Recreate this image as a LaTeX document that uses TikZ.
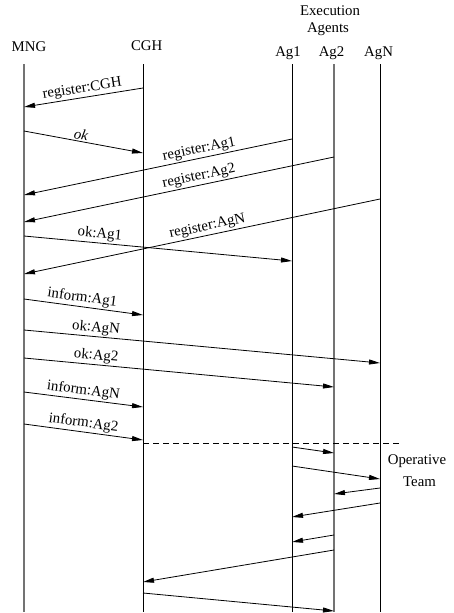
\documentclass[tikz,border=0pt]{standalone}
\usepackage{fontspec}
\setmainfont{Liberation Serif}
\usetikzlibrary{arrows.meta}
\begin{document}
\begin{tikzpicture}[x=1pt,y=-1pt,
  every node/.style={font=\fontsize{14.8}{17}\selectfont},
  head/.style={anchor=base,inner sep=0pt},
  life/.style={line width=0.9pt,black},
  lifeg/.style={line width=1.4pt,black!55},
  msg/.style={line width=0.8pt,-{Triangle[length=11pt,width=5pt]}},
  lbl/.style={sloped,above,inner sep=1.5pt},
  sep/.style={line width=0.8pt,dash pattern=on 6pt off 4pt}]
\useasboundingbox (0,0) rectangle (453,613);
% headers
\node[head] (hMNG) at (29,51.7) {MNG};
\node[head] (hCGH) at (146.7,50) {CGH};
\node[head] (hExe) at (330,16) {Execution};
\node[head] (hAgs) at (328,32.7) {Agents};
\node[head] (hAg1) at (288,56) {Ag1};
\node[head] (hAg2) at (331.5,56) {Ag2};
\node[head] (hAgN) at (378.6,56) {AgN};
\node[head] (hOp) at (417,464) {Operative};
\node[head] (hTeam) at (419.5,486.7) {Team};
% lifelines
\coordinate (lMNG) at (24,64);  \coordinate (eMNG) at (24,612);
\coordinate (lCGH) at (143,64); \coordinate (eCGH) at (143,612);
\coordinate (lAg1) at (292,64); \coordinate (eAg1) at (292,612);
\coordinate (lAg2) at (334,64); \coordinate (eAg2) at (334,612);
\coordinate (lAgN) at (380,64); \coordinate (eAgN) at (380,612);
\draw[lifeg] (lMNG) -- (eMNG);
\draw[life] (lCGH) -- (eCGH);
\draw[life] (lAg1) -- (eAg1);
\draw[lifeg] (lAg2) -- (eAg2);
\draw[life] (lAgN) -- (eAgN);
% messages
\draw[msg] (lCGH |- 0,88) -- node[lbl,pos=0.5] {register:CGH} (lMNG |- 0,107);
\draw[msg] (lMNG |- 0,131) -- node[lbl,pos=0.47] {\itshape ok} (lCGH |- 0,153);
\draw[msg] (lAg1 |- 0,139) -- node[lbl,pos=0.34] {register:Ag1} (lMNG |- 0,195);
\draw[msg] (lAg2 |- 0,157) -- node[lbl,pos=0.43] {register:Ag2} (lMNG |- 0,222);
\draw[msg] (lAgN |- 0,199) -- node[lbl,pos=0.48] {register:AgN} (lMNG |- 0,274);
\draw[msg] (lMNG |- 0,236) -- node[lbl,pos=0.28] {ok:Ag1} (lAg1 |- 0,261);
\draw[msg] (lMNG |- 0,299) -- node[lbl,pos=0.48] {inform:Ag1} (lCGH |- 0,315);
\draw[msg] (lMNG |- 0,330) -- node[lbl,pos=0.2] {ok:AgN} (lAgN |- 0,363);
\draw[msg] (lMNG |- 0,358) -- node[lbl,pos=0.23] {ok:Ag2} (lAg2 |- 0,387);
\draw[msg] (lMNG |- 0,392) -- node[lbl,pos=0.49] {inform:AgN} (lCGH |- 0,407);
\draw[msg] (lMNG |- 0,424) -- node[lbl,pos=0.49] {inform:Ag2} (lCGH |- 0,440);
\coordinate (dEnd) at (402,443);
\draw[sep] (lCGH |- dEnd) -- (dEnd);
\draw[msg] (lAg1 |- 0,447) -- (lAg2 |- 0,453);
\draw[msg] (lAg1 |- 0,466) -- (lAgN |- 0,479);
\draw[msg] (lAgN |- 0,488) -- (lAg2 |- 0,494);
\draw[msg] (lAgN |- 0,503) -- (lAg1 |- 0,517);
\draw[msg] (lAg2 |- 0,535) -- (lAg1 |- 0,542);
\draw[msg] (lAg2 |- 0,550) -- (lCGH |- 0,582);
\draw[msg] (lCGH |- 0,593) -- (lAg2 |- 0,611);
\end{tikzpicture}
\end{document}
